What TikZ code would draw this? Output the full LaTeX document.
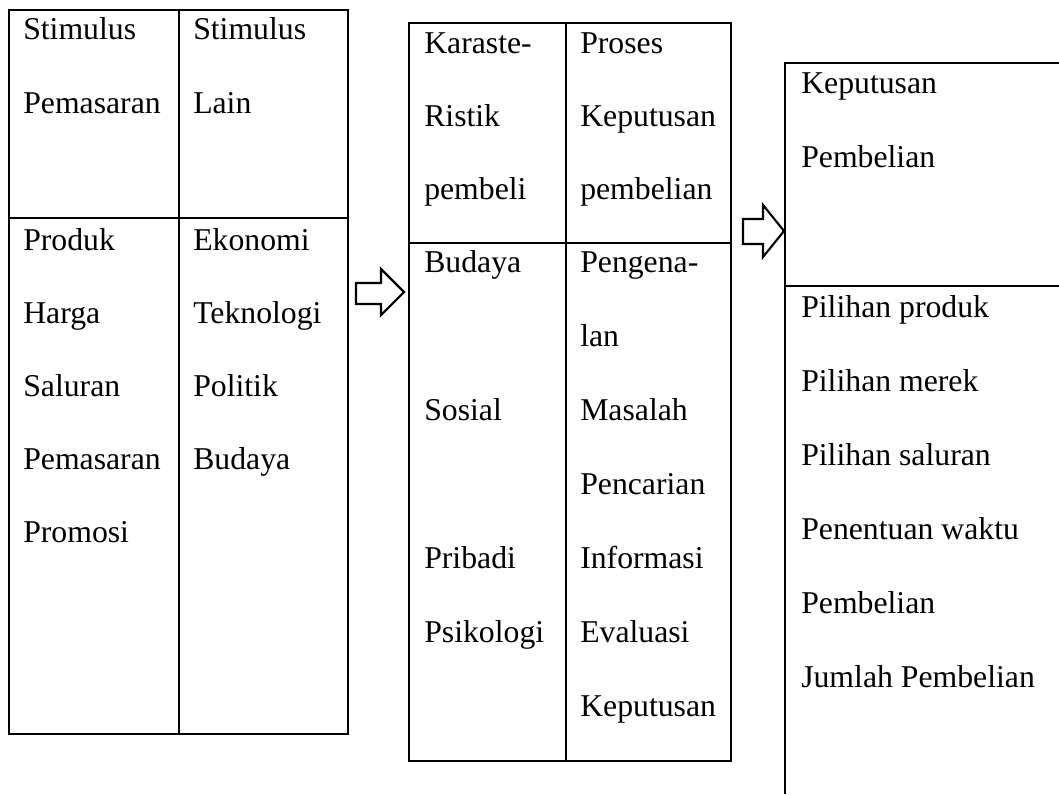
\documentclass[tikz,border=0pt]{standalone}
\usepackage{fontspec}
\setmainfont{Liberation Serif}
\begin{document}
\begin{tikzpicture}[x=0.75pt,y=-0.75pt,
  frame/.style={line width=1.2pt,black},
  lbl/.style={anchor=base west,inner sep=0pt,font=\fontsize{23.8}{28}\selectfont},
  blockarrow/.style={line width=1.6pt,black,fill=white,line join=miter}]
\useasboundingbox (0,0) rectangle (1059,794);
% Table 1
\draw[frame] (9,10) rectangle (348,734);
\draw[frame] (179,10) -- (179,734);
\draw[frame] (9,218) -- (348,218);
\node[lbl] (t1a) at (23,39) {Stimulus};
\node[lbl] (t1b) at (23,113) {Pemasaran};
\node[lbl] (t1c) at (193,39) {Stimulus};
\node[lbl] (t1d) at (193,113) {Lain};
\node[lbl] (t1e) at (23,250) {Produk};
\node[lbl] (t1f) at (23,323) {Harga};
\node[lbl] (t1g) at (23,396) {Saluran};
\node[lbl] (t1h) at (23,469) {Pemasaran};
\node[lbl] (t1i) at (23,542) {Promosi};
\node[lbl] (t1j) at (193,250) {Ekonomi};
\node[lbl] (t1k) at (193,323) {Teknologi};
\node[lbl] (t1l) at (193,396) {Politik};
\node[lbl] (t1m) at (193,469) {Budaya};
% Arrow 1
\draw[blockarrow] (356,283) -- (381,283) -- (381,269) -- (404,292) -- (381,315) -- (381,304) -- (356,304) -- cycle;
% Table 2
\draw[frame] (409,23) rectangle (731,761);
\draw[frame] (566,23) -- (566,761);
\draw[frame] (409,243) -- (731,243);
\node[lbl] (t2a) at (424,53) {Karaste-};
\node[lbl] (t2b) at (424,126) {Ristik};
\node[lbl] (t2c) at (424,199) {pembeli};
\node[lbl] (t2d) at (580,53) {Proses};
\node[lbl] (t2e) at (580,126) {Keputusan};
\node[lbl] (t2f) at (580,199) {pembelian};
\node[lbl] (t2g) at (424,272) {Budaya};
\node[lbl] (t2h) at (424,420) {Sosial};
\node[lbl] (t2i) at (424,568) {Pribadi};
\node[lbl] (t2j) at (424,642) {Psikologi};
\node[lbl] (t2k) at (580,272) {Pengena-};
\node[lbl] (t2l) at (580,346) {lan};
\node[lbl] (t2m) at (580,420) {Masalah};
\node[lbl] (t2n) at (580,494) {Pencarian};
\node[lbl] (t2o) at (580,568) {Informasi};
\node[lbl] (t2p) at (580,642) {Evaluasi};
\node[lbl] (t2q) at (580,716) {Keputusan};
% Arrow 2
\draw[blockarrow] (743,219) -- (763,219) -- (763,205) -- (784,231) -- (763,257) -- (763,244) -- (743,244) -- cycle;
% Table 3
\draw[frame] (1059,63) -- (785,63) -- (785,794);
\draw[frame] (785,286) -- (1059,286);
\node[lbl] (t3a) at (801,93) {Keputusan};
\node[lbl] (t3b) at (801,167) {Pembelian};
\node[lbl] (t3c) at (801,317) {Pilihan produk};
\node[lbl] (t3d) at (801,391) {Pilihan merek};
\node[lbl] (t3e) at (801,465) {Pilihan saluran};
\node[lbl] (t3f) at (801,539) {Penentuan waktu};
\node[lbl] (t3g) at (801,613) {Pembelian};
\node[lbl] (t3h) at (801,687) {Jumlah Pembelian};
\end{tikzpicture}
\end{document}
